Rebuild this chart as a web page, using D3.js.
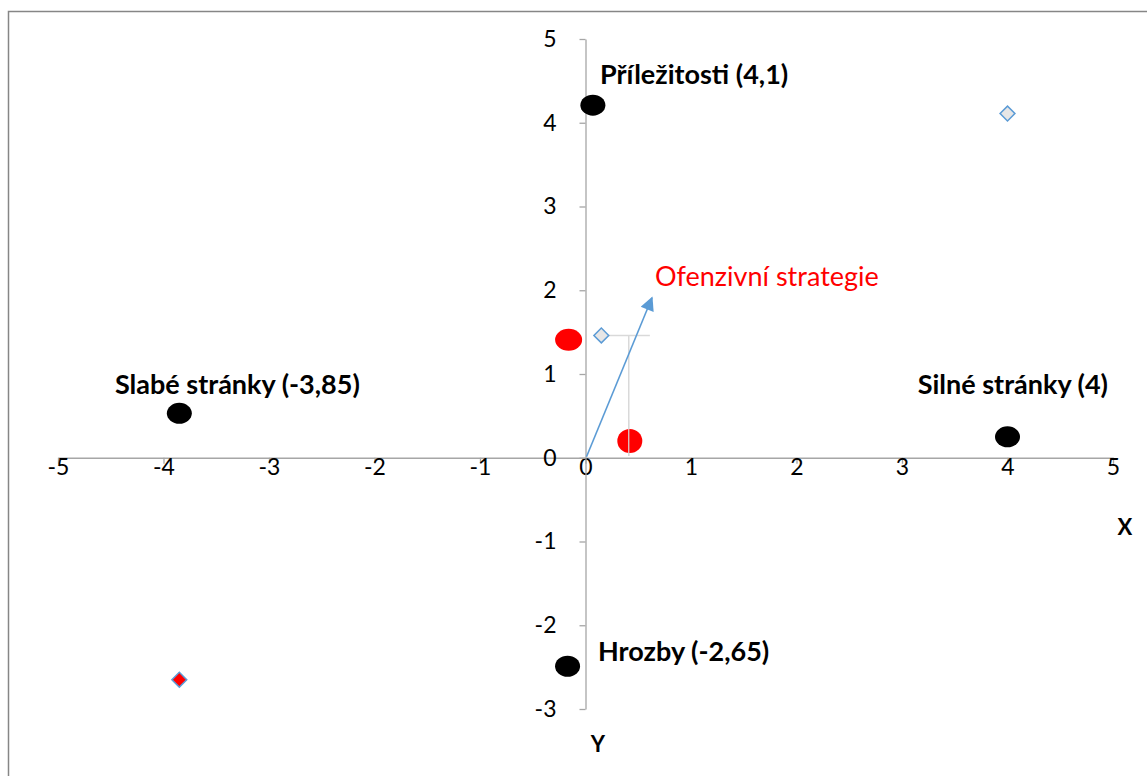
<!DOCTYPE html>
<html><head><meta charset="utf-8">
<script src="https://cdn.jsdelivr.net/npm/d3@7"></script>
<style>body{margin:0;background:#fff}svg{display:block}text{font-family:Lato,"Open Sans",sans-serif}</style>
</head><body>
<script>
const xTicks = [-5,-4,-3,-2,-1,0,1,2,3,4,5];
const yTicks = [-3,-2,-1,0,1,2,3,4,5];
// labelled black points
const blackNames = ["Příležitosti (4,1)","Silné stránky (4)","Slabé stránky (-3,85)","Hrozby (-2,65)"];
const blackX = [0.07, 4.0, -3.85, -0.17];
const blackY = [4.21, 0.25, 0.53, -2.49];
// red points
const redX = [-0.16, 0.42];
const redY = [1.41, 0.2];
// diamond markers
const diaX = [0.15, 4.0, -3.85];
const diaY = [1.46, 4.11, -2.65];
const diaFill = ["#e7e6e6","#e7e6e6","#ff0000"];
// arrow (vector)
const arrowFrom = [0,0], arrowTo = [0.63, 1.91];
const arrowLabel = "Ofenzivní strategie";
// helper lines
const hLineX = [0.1, 0.61], hLineY = 1.46;
const vLineX = 0.41, vLineY = [1.46, 0.02];

const W=1147,H=776;
const svg=d3.select("body").append("svg").attr("width",W).attr("height",H);
svg.append("rect").attr("x",8.5).attr("y",11.5).attr("width",W+10).attr("height",H+10)
  .attr("fill","#fff").attr("stroke","#868686").attr("stroke-width",1.5);

const x=d3.scaleLinear().domain([-5,5]).range([58,1113]);
const y=d3.scaleLinear().domain([-3,5]).range([709,39]);
const axCol="#a6a6a6";

// axes
const xa=svg.append("g").attr("transform",`translate(0,${y(0)})`)
  .call(d3.axisBottom(x).tickValues(xTicks).tickSize(6).tickSizeOuter(0).tickFormat(d=>d<0?"-"+Math.abs(d):d));
const ya=svg.append("g").attr("transform",`translate(${x(0)},0)`)
  .call(d3.axisLeft(y).tickValues(yTicks).tickSize(6).tickSizeOuter(0).tickFormat(d=>d<0?"-"+Math.abs(d):d));
[xa,ya].forEach(g=>{
  g.select(".domain").attr("stroke",axCol).attr("stroke-width",1.3);
  g.selectAll(".tick line").attr("stroke",axCol).attr("stroke-width",1.3);
  g.selectAll(".tick text").attr("font-family","Lato, sans-serif").attr("font-size",23).attr("fill","#000");
});
xa.selectAll(".tick text").attr("dy","0.71em").attr("y",1);
ya.selectAll(".tick text").attr("x",-29);

// helper lines
svg.append("line").attr("x1",x(hLineX[0])).attr("x2",x(hLineX[1])).attr("y1",y(hLineY)).attr("y2",y(hLineY))
  .attr("stroke","#d9d9d9").attr("stroke-width",1.5);
svg.append("line").attr("x1",x(vLineX)).attr("x2",x(vLineX)).attr("y1",y(vLineY[0])).attr("y2",y(vLineY[1]))
  .attr("stroke","#d9d9d9").attr("stroke-width",1.5);

// red ellipses
svg.selectAll(".red").data(redX).join("ellipse").attr("cx",d=>x(d)).attr("cy",(d,i)=>y(redY[i]))
  .attr("rx",(d,i)=>i==0?13.5:12.5).attr("ry",(d,i)=>i==0?11:12).attr("fill","#ff0000");
svg.append("line").attr("x1",x(vLineX)).attr("x2",x(vLineX)).attr("y1",y(0.45)).attr("y2",y(vLineY[1]))
  .attr("stroke","#d9d9d9").attr("stroke-width",1.2);

// black ellipses
svg.selectAll(".blk").data(blackX).join("ellipse").attr("cx",d=>x(d)).attr("cy",(d,i)=>y(blackY[i]))
  .attr("rx",12.5).attr("ry",10.5).attr("fill","#000");

// diamonds
svg.selectAll(".dia").data(diaX).join("path")
  .attr("d",d3.symbol(d3.symbolSquare,110))
  .attr("transform",(d,i)=>`translate(${x(d)},${y(diaY[i])}) rotate(45)`)
  .attr("fill",(d,i)=>diaFill[i]).attr("stroke","#5b9bd5").attr("stroke-width",1.5);

// arrow
svg.append("defs").append("marker").attr("id","ah").attr("viewBox","0 0 10 10").attr("refX",9).attr("refY",5)
  .attr("orient","auto").attr("markerUnits","userSpaceOnUse")
  .attr("markerWidth",16).attr("markerHeight",14)
  .append("path").attr("d","M0,0 L10,5 L0,10 Z").attr("fill","#5b9bd5");
svg.append("line").attr("x1",x(arrowFrom[0])+1).attr("y1",y(arrowFrom[1])-1).attr("x2",x(arrowTo[0])).attr("y2",y(arrowTo[1]))
  .attr("stroke","#5b9bd5").attr("stroke-width",1.6).attr("marker-end","url(#ah)");
svg.append("text").attr("x",655).attr("y",286).attr("font-size",27).attr("fill","#ff0000").text(arrowLabel);

// labels
const lbl=[{x:600,y:84,a:"start"},{x:1108,y:394,a:"end"},{x:115,y:394,a:"start"},{x:598,y:661,a:"start"}];
svg.selectAll(".lbl").data(blackNames).join("text").attr("x",(d,i)=>lbl[i].x).attr("y",(d,i)=>lbl[i].y)
  .attr("text-anchor",(d,i)=>lbl[i].a).attr("font-size",27).attr("font-weight","bold").text(d=>d);

svg.append("text").attr("x",1125).attr("y",535).attr("text-anchor","middle").attr("font-size",22).attr("font-weight","bold").text("X");
svg.append("text").attr("x",598).attr("y",752).attr("text-anchor","middle").attr("font-size",22).attr("font-weight","bold").text("Y");
</script>
</body></html>
